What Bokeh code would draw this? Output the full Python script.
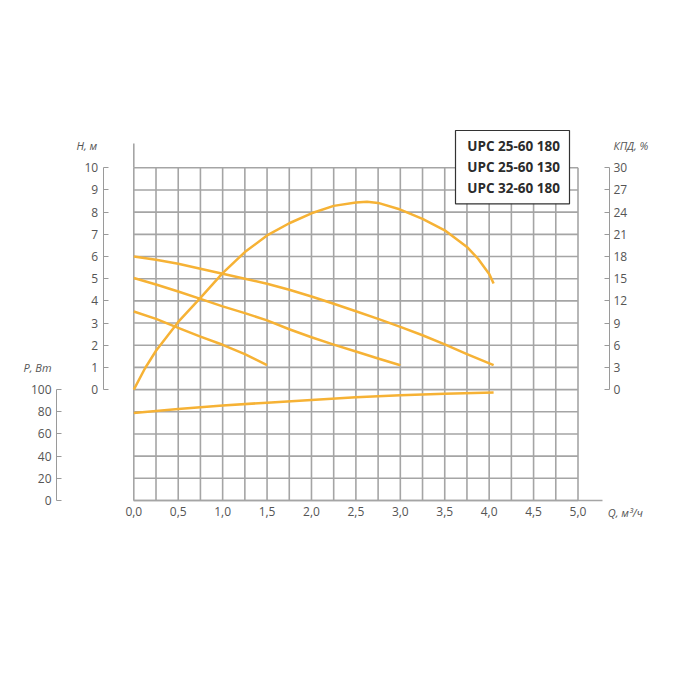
import numpy as np
from bokeh.plotting import figure
from bokeh.models import Range1d, LinearAxis, FixedTicker, CustomJSTickFormatter, Label
from bokeh.core.properties import value
from bokeh.embed import file_html
from bokeh.resources import INLINE

# --- data ---
# efficiency curve (KPD, %)
q_eff = [0, 0.125, 0.25, 0.5, 0.75, 1.0, 1.25, 1.5, 1.75, 2.0, 2.25, 2.5, 2.625, 2.75, 3.0, 3.25, 3.5, 3.75, 3.875, 4.0, 4.05]
kpd = [0, 2.85, 5.25, 9.15, 12.4, 15.75, 18.6, 20.85, 22.5, 23.85, 24.85, 25.3, 25.4, 25.25, 24.35, 23.1, 21.55, 19.3, 17.7, 15.65, 14.35]

# head curves (H, m)
q_a = [0, 0.25, 0.5, 0.75, 1.0, 1.25, 1.5, 1.75, 2.0, 2.25, 2.5, 2.75, 3.0, 3.25, 3.5, 3.75, 4.05]
h_a = [6.0, 5.85, 5.67, 5.45, 5.22, 5.0, 4.77, 4.5, 4.2, 3.87, 3.53, 3.19, 2.83, 2.45, 2.04, 1.6, 1.1]

q_b = [0, 0.25, 0.5, 0.75, 1.0, 1.25, 1.5, 1.75, 2.0, 2.25, 2.5, 2.75, 3.0]
h_b = [5.03, 4.74, 4.42, 4.09, 3.75, 3.45, 3.12, 2.72, 2.36, 2.03, 1.72, 1.4, 1.1]

q_c = [0, 0.25, 0.5, 0.75, 1.0, 1.25, 1.5]
h_c = [3.52, 3.19, 2.78, 2.39, 2.02, 1.6, 1.1]

# power curve (P, W)
q_p = [0, 0.5, 1.0, 1.5, 2.0, 2.5, 3.0, 3.5, 4.05]
power = [78.8, 82.5, 85.7, 88.2, 90.7, 93.0, 94.9, 96.2, 97.4]

models = ["UPC 25-60 180", "UPC 25-60 130", "UPC 32-60 180"]

h_ticks = list(range(0, 11))
p_ticks = [0, 20, 40, 60, 80, 100]
kpd_ticks = list(range(0, 31, 3))
q_ticks = [0, 0.5, 1.0, 1.5, 2.0, 2.5, 3.0, 3.5, 4.0, 4.5, 5.0]

ORANGE = "#f6b235"
GRID = "#a5a5a5"
AXIS = "#9a9a9a"
TXT = "#555555"
FONT = "Open Sans"

W = H = 670
# picture pixel -> data helpers
def qx(px):
    return (px - 133.3) / 88.84

def hy(py):
    return (389.1 - py) / 22.18

ymin, ymax = hy(H), hy(0)

p = figure(width=W, height=H, output_backend="svg", toolbar_location=None,
           x_range=Range1d(qx(0), qx(W)), y_range=Range1d(ymin, ymax),
           x_axis_location=None, y_axis_location=None, min_border=0)
p.extra_y_ranges = {"p": Range1d((ymin + 5) * 20, (ymax + 5) * 20),
                    "kpd": Range1d(ymin * 3, ymax * 3)}
p.outline_line_color = None
p.grid.visible = False

# grid
vx = np.arange(0, 5.01, 0.25)
p.segment(x0=vx, y0=-5, x1=vx, y1=10, line_color=GRID, line_width=1.6)
hh = np.arange(-5, 10.01, 1)
p.segment(x0=0, y0=hh, x1=5, y1=hh, line_color=GRID, line_width=1.6)
p.segment(x0=[0], y0=[10], x1=[0], y1=[hy(143)], line_color=GRID, line_width=1.6)

# curves
p.line(q_eff, kpd, y_range_name="kpd", line_color=ORANGE, line_width=2.5, line_join="round")
p.line(q_a, h_a, line_color=ORANGE, line_width=2.5, line_join="round")
p.line(q_b, h_b, line_color=ORANGE, line_width=2.5, line_join="round")
p.line(q_c, h_c, line_color=ORANGE, line_width=2.5, line_join="round")
p.line(q_p, power, y_range_name="p", line_color=ORANGE, line_width=2.5, line_join="round")


def style(ax):
    ax.axis_line_color = AXIS
    ax.axis_line_width = 1
    ax.major_tick_line_color = AXIS
    ax.major_tick_in = 5
    ax.major_tick_out = 0
    ax.minor_tick_line_color = None
    ax.major_label_text_color = TXT
    ax.major_label_text_font = FONT
    ax.major_label_text_font_size = "12px"
    ax.major_label_standoff = 5
    return ax


ax_h = style(LinearAxis(fixed_location=qx(102.7), ticker=FixedTicker(ticks=h_ticks), bounds=(0, 10)))
p.add_layout(ax_h, "left")
ax_p = style(LinearAxis(y_range_name="p", fixed_location=qx(56), ticker=FixedTicker(ticks=p_ticks), bounds=(0, 100)))
p.add_layout(ax_p, "left")
ax_k = style(LinearAxis(y_range_name="kpd", fixed_location=qx(609), ticker=FixedTicker(ticks=kpd_ticks), bounds=(0, 30)))
ax_k.major_label_standoff = 4
p.add_layout(ax_k, "right")

ax_q = style(LinearAxis(fixed_location=-5, ticker=FixedTicker(ticks=q_ticks), bounds=(0, qx(602))))
ax_q.axis_line_color = GRID
ax_q.axis_line_width = 1.6
ax_q.major_tick_in = 0
ax_q.major_label_standoff = 6
ax_q.formatter = CustomJSTickFormatter(code="return tick.toFixed(1).replace('.', ',')")
p.add_layout(ax_q, "below")

# axis titles
for txt, x, y, align in [("H, м", qx(96.7), hy(145), "right"),
                         ("P, Вт", qx(51), hy(366.7), "right"),
                         ("КПД, %", qx(613), hy(145), "left"),
                         ("Q, м³/ч", qx(607.3), hy(512), "left")]:
    p.add_layout(Label(x=x, y=y, text=txt, text_align=align, text_baseline="middle",
                       text_font=FONT, text_font_style="italic", text_font_size="11px",
                       text_color=TXT))

# legend box with model names
p.quad(left=[qx(455)], right=[qx(569)], top=[hy(130)], bottom=[hy(203.3)],
       fill_color="white", line_color="#333333", line_width=1.2)
p.text(x=[qx(466.7)] * 3, y=[hy(145.7), hy(166.7), hy(187.7)], text=models,
       text_font=value(FONT), text_font_style="bold", text_font_size="13.5px",
       text_color="#2b2b2b", text_baseline="middle", text_align="left")

open("out.html", "w").write(file_html(p, INLINE))
